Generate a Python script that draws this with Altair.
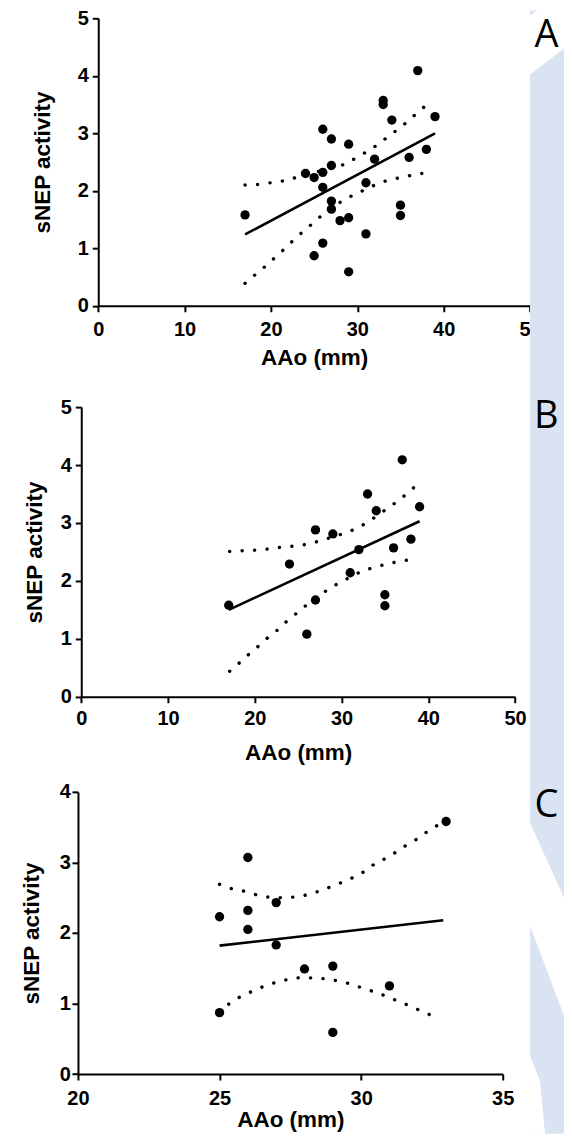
import altair as alt
import pandas as pd

# ---------------- data ----------------
# Panel A
a_x = [17, 24, 25, 25, 26, 26, 26, 26, 27, 27, 27, 27, 28, 29, 29, 29, 31, 31, 32, 33, 33, 34, 35, 35, 36, 37, 38, 39]
a_y = [1.58, 2.30, 2.23, 0.87, 2.32, 3.07, 2.06, 1.09, 2.90, 2.44, 1.82, 1.68, 1.48, 1.53, 2.81, 0.59, 2.14, 1.25,
       2.55, 3.57, 3.50, 3.23, 1.75, 1.57, 2.58, 4.09, 2.72, 3.29]
a_fit_x = [17, 39]
a_fit_y = [1.24, 3.00]
a_up_x = [17, 18.5, 20, 21.4, 22.9, 28.8, 30.1, 31.4, 32.6, 33.8, 35.1, 36.2, 37.3, 38.5]
a_up_y = [2.10, 2.11, 2.14, 2.17, 2.23, 2.47, 2.60, 2.70, 2.83, 2.97, 3.11, 3.26, 3.40, 3.56]
a_lo_x = [17, 18.1, 19.3, 20.4, 21.5, 22.6, 23.7, 24.9, 26.0, 28.4, 29.9, 32.6, 34.0, 35.4, 36.9, 38.5]
a_lo_y = [0.39, 0.53, 0.68, 0.83, 0.98, 1.14, 1.29, 1.44, 1.59, 1.84, 1.95, 2.14, 2.20, 2.24, 2.29, 2.32]

# Panel B
b_x = [17, 24, 26, 27, 27, 29, 31, 32, 33, 34, 35, 35, 36, 37, 38, 39]
b_y = [1.58, 2.29, 1.08, 2.88, 1.67, 2.81, 2.14, 2.54, 3.50, 3.21, 1.76, 1.57, 2.57, 4.09, 2.72, 3.28]
b_fit_x = [17, 39]
b_fit_y = [1.50, 3.03]
b_up_x = [17.1, 18.5, 20, 21.5, 23, 24.5, 26, 27.5, 30.3, 31.7, 33.1, 34.4, 35.4, 36.7, 37.9, 38.9]
b_up_y = [2.51, 2.52, 2.53, 2.55, 2.58, 2.60, 2.63, 2.69, 2.82, 2.90, 3.02, 3.16, 3.26, 3.40, 3.55, 3.69]
b_lo_x = [17.1, 18.2, 19.3, 20.4, 21.5, 22.7, 23.8, 24.9, 26.1, 28.6, 29.9, 32.5, 34.0, 35.4, 36.9, 38.4]
b_lo_y = [0.44, 0.58, 0.73, 0.87, 1.02, 1.16, 1.32, 1.45, 1.60, 1.87, 1.98, 2.18, 2.24, 2.30, 2.34, 2.38]

# Panel C
c_x = [25, 25, 26, 26, 26, 27, 27, 28, 29, 29, 31, 33]
c_y = [2.23, 0.87, 3.07, 2.32, 2.05, 2.43, 1.83, 1.49, 1.53, 0.59, 1.25, 3.58]
c_fit_x = [25, 32.9]
c_fit_y = [1.82, 2.18]
c_up_x = [25.0, 25.4, 25.9, 26.3, 26.7, 27.2, 27.65, 28.1, 28.5, 28.9, 29.4, 29.8, 30.2, 30.5, 31.0, 31.3, 31.7, 32.1, 32.4, 32.9]
c_up_y = [2.69, 2.63, 2.59, 2.54, 2.51, 2.50, 2.51, 2.54, 2.59, 2.65, 2.73, 2.80, 2.89, 2.99, 3.08, 3.17, 3.27, 3.36, 3.46, 3.57]
c_lo_x = [25.0, 25.4, 25.8, 26.2, 26.6, 27.0, 27.5, 27.9, 28.35, 28.8, 29.3, 29.7, 30.1, 30.6, 31.0, 31.4, 31.8, 32.2, 32.6]
c_lo_y = [0.87, 1.02, 1.11, 1.18, 1.25, 1.30, 1.35, 1.37, 1.36, 1.35, 1.31, 1.27, 1.21, 1.15, 1.08, 1.02, 0.95, 0.88, 0.81]

x_title = "AAo (mm)"
y_title = "sNEP activity"
letters = ["A", "B", "C"]

FONT = "Liberation Sans"
BLUE = "#dae3f1"
ONE = alt.Data(values=[{}])
X0 = 77.7          # common left edge of the plot areas (page px)
RIGHT = 564        # right edge usable inside the page margin
OVERLAP = 2        # panels overlap slightly so the blue strip has no seam


def panel(px, py, fx, fy, ux, uy, lx, ly, xdom, xvals, ydom, yvals, g, letter, polys):
    top, h, bt, bb = g["top"], g["h"], g["bt"], g["bb"]
    ax, ar = g["axis"], g["xend"]

    def rx(v):
        return v - X0

    def ry(v):
        return v - top

    xenc = alt.X("x:Q", scale=alt.Scale(domain=xdom, nice=False, zero=False, range=[rx(ax), rx(ar)]),
                 axis=alt.Axis(values=xvals, title=x_title, grid=False, domainColor="black", domainWidth=2,
                               tickColor="black", tickWidth=2, tickSize=6, labelFont=FONT, labelFontSize=20,
                               labelFontWeight="bold", labelColor="black", labelPadding=g["xlp"],
                               labelFlush=False, labelOverlap=False, titleFont=FONT, titleFontSize=22.5,
                               titleFontWeight="bold", titleColor="black", titleY=g["xty"],
                               titleX=(rx(ax) + rx(ar)) / 2, titleBaseline="alphabetic"))
    yenc = alt.Y("y:Q", scale=alt.Scale(domain=ydom, nice=False, zero=False),
                 axis=alt.Axis(values=yvals, title=y_title, grid=False, domainColor="black", domainWidth=2,
                               tickColor="black", tickWidth=2, tickSize=6, labelFont=FONT, labelFontSize=20,
                               labelFontWeight="bold", labelColor="black", labelPadding=g["ylp"],
                               labelFlush=False, labelOverlap=False, titleFont=FONT, titleFontSize=22.5,
                               titleFontWeight="bold", titleColor="black", titleX=g["ytx"],
                               titleBaseline="middle", offset=-rx(ax)))

    pts = pd.DataFrame({"x": px, "y": py})
    fit = pd.DataFrame({"x": fx, "y": fy})
    band = pd.DataFrame({"x": ux + lx, "y": uy + ly, "band": ["up"] * len(ux) + ["lo"] * len(lx)})

    bounds = alt.Chart(ONE).mark_rect(opacity=0).encode(
        x=alt.value(rx(8)), x2=alt.value(rx(RIGHT)), y=alt.value(ry(bt)), y2=alt.value(ry(bb)))
    bands = alt.Chart(band).mark_line(strokeDash=[0.1, 12.4], strokeCap="round", strokeWidth=3.4,
                                      color="black").encode(x=xenc, y=yenc, detail="band:N")
    fitl = alt.Chart(fit).mark_line(strokeWidth=2.6, color="black").encode(x=xenc, y=yenc)
    dots = alt.Chart(pts).mark_circle(size=87, color="black", opacity=1).encode(x=xenc, y=yenc)
    strip = alt.Chart(ONE).mark_rect(color=BLUE).encode(
        x=alt.value(rx(530)), x2=alt.value(rx(RIGHT)), y=alt.value(ry(bt)), y2=alt.value(ry(bb)))
    layers = [bounds, bands, fitl, dots, strip]
    for poly in polys:
        path = "M" + " L".join(f"{rx(a):.2f},{ry(b):.2f}" for a, b in poly) + " Z"
        layers.append(alt.Chart(ONE).mark_point(shape=path, size=4, filled=True, fill="white", opacity=1,
                                                strokeWidth=0).encode(x=alt.value(0), y=alt.value(0)))
    txt = alt.Chart(ONE).mark_text(text=letter, font="Open Sans", fontSize=38, align="right",
                                   baseline="alphabetic", color="black").encode(
        x=alt.value(rx(RIGHT - 5.5)), y=alt.value(ry(g["ly"])))
    layers.append(txt)
    return alt.layer(*layers).properties(width=rx(530), height=h)


gA = dict(axis=98, xend=530, top=15.7, h=287.6, bt=8, bb=367.7, xlp=8.0, ylp=4, ytx=-56, xty=58.4, ly=44)
gB = dict(axis=81, xend=515, top=406.7, h=289.8, bt=370 - OVERLAP, bb=765, xlp=6.0, ylp=4, ytx=-46.3,
          xty=62.5, ly=428)
gC = dict(axis=77.7, xend=502.7, top=791, h=282.3, bt=765 - OVERLAP, bb=1133, xlp=8.5, ylp=1.5, ytx=-46.2,
          xty=53.0, ly=816)

polysA = [[(530, 13), (540, 5.7), (564, 5.7), (564, 46), (530, 72)]]
polysC = [[(530, 822), (564, 897), (564, 1015), (530, 925)],
          [(530, 1055), (540, 1080), (545, 1133), (530, 1133)]]

pA = panel(a_x, a_y, a_fit_x, a_fit_y, a_up_x, a_up_y, a_lo_x, a_lo_y, [0, 50], [0, 10, 20, 30, 40, 50],
           [0, 5], [0, 1, 2, 3, 4, 5], gA, letters[0], polysA)
pB = panel(b_x, b_y, b_fit_x, b_fit_y, b_up_x, b_up_y, b_lo_x, b_lo_y, [0, 50], [0, 10, 20, 30, 40, 50],
           [0, 5], [0, 1, 2, 3, 4, 5], gB, letters[1], [])
pC = panel(c_x, c_y, c_fit_x, c_fit_y, c_up_x, c_up_y, c_lo_x, c_lo_y, [20, 35], [20, 25, 30, 35],
           [0, 4], [0, 1, 2, 3, 4], gC, letters[2], polysC)

chart = alt.vconcat(pA, pB, pC, spacing=-OVERLAP).properties(padding=0).configure_view(strokeWidth=0)
chart.save("out.html", embed_options={"renderer": "svg", "actions": False})
